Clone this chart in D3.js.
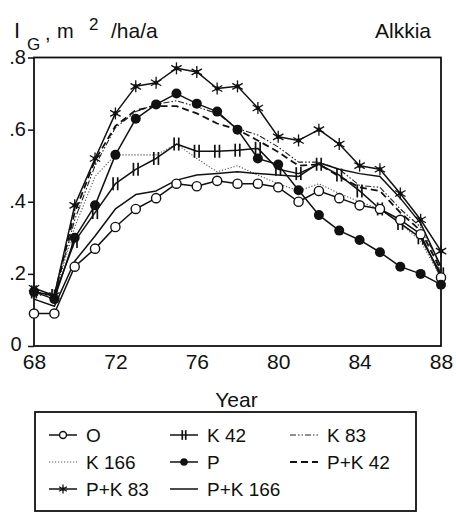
<!DOCTYPE html>
<html>
<head>
<meta charset="utf-8">
<script src="https://cdn.jsdelivr.net/npm/d3@7"></script>
<style>
  html, body { margin: 0; padding: 0; background: #fff; }
  svg text { font-family: "Liberation Sans", Arial, sans-serif; fill: #111; }
</style>
</head>
<body>
<svg id="chart" width="456" height="514"></svg>
<script>
// Basal area increment by treatment, Alkkia
const years = [68, 69, 70, 71, 72, 73, 74, 75, 76, 77, 78, 79, 80, 81, 82, 83, 84, 85, 86, 87, 88];

const seriesO     = [0.09, 0.09, 0.22, 0.27, 0.33, 0.38, 0.41, 0.45, 0.443, 0.458, 0.45, 0.45, 0.44, 0.40, 0.43, 0.41, 0.39, 0.38, 0.35, 0.31, 0.19];
const seriesK42   = [0.15, 0.14, 0.29, 0.37, 0.45, 0.49, 0.52, 0.56, 0.54, 0.54, 0.543, 0.548, 0.49, 0.478, 0.504, 0.474, 0.43, 0.38, 0.34, 0.30, 0.20];
const seriesK83   = [0.15, 0.14, 0.35, 0.50, 0.605, 0.65, 0.67, 0.68, 0.663, 0.645, 0.603, 0.585, 0.552, 0.51, 0.51, 0.49, 0.445, 0.44, 0.38, 0.33, 0.22];
const seriesK166  = [0.14, 0.14, 0.33, 0.47, 0.53, 0.53, 0.53, 0.56, 0.52, 0.483, 0.50, 0.474, 0.45, 0.43, 0.45, 0.423, 0.40, 0.38, 0.34, 0.29, 0.19];
const seriesP     = [0.15, 0.13, 0.30, 0.39, 0.53, 0.63, 0.67, 0.70, 0.672, 0.65, 0.60, 0.52, 0.503, 0.432, 0.363, 0.32, 0.294, 0.26, 0.22, 0.20, 0.17];
const seriesPK42  = [0.15, 0.14, 0.37, 0.515, 0.61, 0.654, 0.665, 0.665, 0.645, 0.617, 0.60, 0.57, 0.538, 0.50, 0.504, 0.47, 0.44, 0.43, 0.37, 0.32, 0.21];
const seriesPK83  = [0.16, 0.14, 0.39, 0.52, 0.645, 0.72, 0.73, 0.77, 0.76, 0.714, 0.72, 0.66, 0.58, 0.57, 0.60, 0.56, 0.50, 0.49, 0.423, 0.35, 0.263];
const seriesPK166 = [0.13, 0.11, 0.235, 0.305, 0.38, 0.42, 0.43, 0.46, 0.474, 0.478, 0.483, 0.478, 0.474, 0.47, 0.508, 0.49, 0.478, 0.47, 0.41, 0.34, 0.22];

const xTicks = [68, 72, 76, 80, 84, 88];
const yTicks = [0, 0.2, 0.4, 0.6, 0.8];
const yTickLabels = ["0", ".2", ".4", ".6", ".8"];

const legendLabels = ["O", "K 42", "K 83", "K 166", "P", "P+K 42", "P+K 83", "P+K 166"];

// drawing styles for each treatment
const series = [
  { name: "K 166",   values: seriesK166,  dash: "1.2,1.8", width: 1.1, color: "#555", marker: null },
  { name: "K 83",    values: seriesK83,   dash: "6,2,1.5,2,1.5,2", width: 1.1, color: "#222", marker: null },
  { name: "P+K 42",  values: seriesPK42,  dash: "7,4", width: 1.8, color: "#111", marker: null },
  { name: "P+K 166", values: seriesPK166, dash: null, width: 1.5, color: "#111", marker: null },
  { name: "K 42",    values: seriesK42,   dash: null, width: 1.5, color: "#111", marker: "bars" },
  { name: "O",       values: seriesO,     dash: null, width: 1.5, color: "#111", marker: "open" },
  { name: "P",       values: seriesP,     dash: null, width: 1.5, color: "#111", marker: "filled" },
  { name: "P+K 83",  values: seriesPK83,  dash: null, width: 1.5, color: "#111", marker: "star" }
];
const styleOf = Object.fromEntries(series.map(s => [s.name, s]));

const svg = d3.select("#chart");
const x = d3.scaleLinear().domain([68, 88]).range([34, 441]);
const y = d3.scaleLinear().domain([0, 0.8]).range([346, 57.5]);

// frame
svg.append("rect")
  .attr("x", x(68)).attr("y", y(0.8))
  .attr("width", x(88) - x(68)).attr("height", y(0) - y(0.8))
  .attr("fill", "none").attr("stroke", "#111").attr("stroke-width", 1.8);

// axes
const yAxis = svg.append("g").attr("transform", `translate(${x(68)},0)`)
  .call(d3.axisLeft(y).tickValues(yTicks).tickSize(6).tickPadding(2)
    .tickFormat((d, i) => yTickLabels[i]));
yAxis.select(".domain").remove();
yAxis.selectAll("line").attr("stroke", "#111").attr("stroke-width", 1.5);
yAxis.selectAll("text").style("font-size", "20px").attr("dy", "0.28em").attr("fill", "#111");
// the zero label sits just left of the first year label
yAxis.selectAll("text").filter(d => d === 0).attr("x", -12.5).attr("dy", "0.22em");

const xAxis = svg.append("g").attr("transform", `translate(0,${y(0)})`)
  .call(d3.axisBottom(x).tickValues(xTicks).tickSize(0).tickPadding(8).tickFormat(d3.format("d")));
xAxis.select(".domain").remove();
xAxis.selectAll("text").style("font-size", "21px").attr("fill", "#111");

// axis titles
svg.append("text").attr("x", (x(68) + x(88)) / 2 - 1).attr("y", 407)
  .attr("text-anchor", "middle").style("font-size", "21px").text("Year");

const title = svg.append("g");
title.append("text").attr("x", 14).attr("y", 38).style("font-size", "22px").text("I");
title.append("text").attr("x", 27).attr("y", 50).style("font-size", "17px").text("G");
title.append("text").attr("x", 45).attr("y", 40).style("font-size", "20px").text(",");
title.append("text").attr("x", 57).attr("y", 38).style("font-size", "20px").text("m");
title.append("text").attr("x", 89).attr("y", 30).style("font-size", "17px").text("2");
title.append("text").attr("x", 111).attr("y", 38).style("font-size", "21px").text("/ha/a");
svg.append("text").attr("x", 431).attr("y", 38).attr("text-anchor", "end")
  .style("font-size", "21px").text("Alkkia");

// markers
function drawMarker(g, kind, cx, cy, scale) {
  const k = scale || 1;
  if (kind === "open") {
    g.append("circle").attr("cx", cx).attr("cy", cy).attr("r", 4.6 * k)
      .attr("fill", "#fff").attr("stroke", "#111").attr("stroke-width", 1.4);
  } else if (kind === "filled") {
    g.append("circle").attr("cx", cx).attr("cy", cy).attr("r", 5 * k).attr("fill", "#111");
  } else if (kind === "bars") {
    [-2.3, 2.3].forEach(dx => {
      g.append("line").attr("x1", cx + dx * k).attr("x2", cx + dx * k)
        .attr("y1", cy - 6.5 * k).attr("y2", cy + 6.5 * k)
        .attr("stroke", "#111").attr("stroke-width", 1.7);
    });
  } else if (kind === "star") {
    const r = 6 * k;
    [90, 30, 150].forEach(a => {
      const rad = a * Math.PI / 180;
      const dx = r * Math.cos(rad), dy = r * Math.sin(rad);
      g.append("line").attr("x1", cx - dx).attr("y1", cy - dy).attr("x2", cx + dx).attr("y2", cy + dy)
        .attr("stroke", "#111").attr("stroke-width", 1.3);
    });
    g.append("circle").attr("cx", cx).attr("cy", cy).attr("r", 2.3 * k).attr("fill", "#111");
  }
}

const line = d3.line().x((d, i) => x(years[i])).y(d => y(d));

const plot = svg.append("g");
series.forEach(s => {
  plot.append("path").datum(s.values)
    .attr("d", line)
    .attr("fill", "none")
    .attr("stroke", s.color)
    .attr("stroke-width", s.width)
    .attr("stroke-linejoin", "round")
    .attr("stroke-dasharray", s.dash);
});
series.filter(s => s.marker).forEach(s => {
  const g = plot.append("g");
  s.values.forEach((v, i) => drawMarker(g, s.marker, x(years[i]), y(v)));
});

// legend
svg.append("rect").attr("x", 35).attr("y", 412).attr("width", 381).attr("height", 99)
  .attr("fill", "none").attr("stroke", "#111").attr("stroke-width", 1.8);

const colX = [49, 170, 290];
const rowY = [435, 462, 489];
legendLabels.forEach((name, i) => {
  const s = styleOf[name];
  const cx = colX[i % 3], cy = rowY[Math.floor(i / 3)];
  const g = svg.append("g");
  g.append("line").attr("x1", cx).attr("x2", cx + 28).attr("y1", cy).attr("y2", cy)
    .attr("stroke", s.color).attr("stroke-width", s.width)
    .attr("stroke-dasharray", s.dash);
  if (s.marker) drawMarker(g, s.marker, cx + 14, cy, 0.75);
  g.append("text").attr("x", cx + 37).attr("y", cy).attr("dy", "0.36em")
    .style("font-size", "19px").text(name);
});
</script>
</body>
</html>
